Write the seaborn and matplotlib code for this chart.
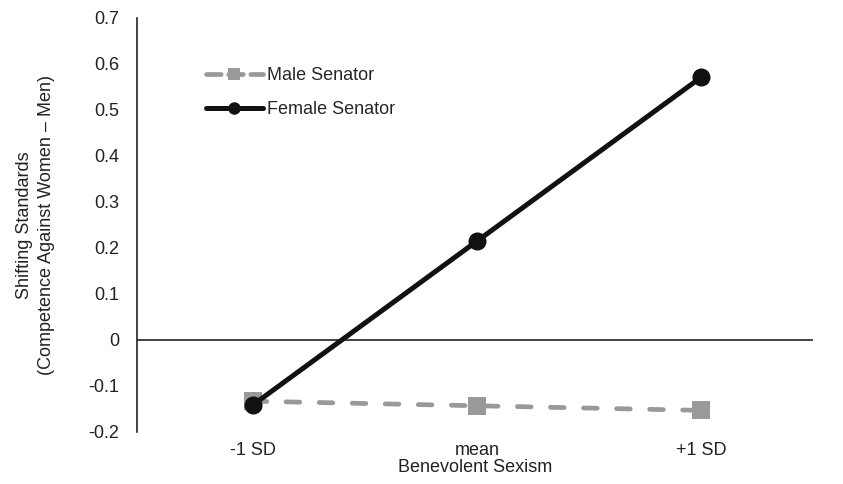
import matplotlib
matplotlib.use("Agg")
import matplotlib.pyplot as plt
from matplotlib.lines import Line2D
import seaborn as sns
import pandas as pd

categories = ["-1 SD", "mean", "+1 SD"]
male_values = [-0.133, -0.143, -0.153]
female_values = [-0.141, 0.215, 0.571]
yticks = [-0.2, -0.1, 0, 0.1, 0.2, 0.3, 0.4, 0.5, 0.6, 0.7]
ytick_labels = ["-0.2", "-0.1", "0", "0.1", "0.2", "0.3", "0.4", "0.5", "0.6", "0.7"]

sns.set_style("white")
plt.rcParams["font.family"] = ["Liberation Sans", "DejaVu Sans"]

male_df = pd.DataFrame({"x": range(len(categories)), "y": male_values})
female_df = pd.DataFrame({"x": range(len(categories)), "y": female_values})

fig = plt.figure(figsize=(8.43, 4.84), dpi=100)
ax = fig.add_axes([137/843, 1 - 432/484, (813 - 137)/843, (432 - 18)/484])

ax.axhline(0, color="#222222", lw=1.2, zorder=1)

male_color = "#999999"
sns.lineplot(data=male_df, x="x", y="y", ax=ax, color=male_color, lw=3.4,
             marker="s", markersize=13, markeredgewidth=0,
             linestyle=(0, (2.9, 4.1)), zorder=2)
ax.lines[-1].set_dash_capstyle("round")
sns.lineplot(data=female_df, x="x", y="y", ax=ax, color="#111111", lw=3.6,
             marker="o", markersize=13, markeredgewidth=0, zorder=3)

fs = 13
ax.set_xlim(-0.518, 2.5)
ax.set_ylim(-0.2, 0.7)
ax.set_yticks(yticks)
ax.set_yticklabels(ytick_labels, fontsize=fs, color="#222222")
ax.set_xticks(range(len(categories)))
ax.set_xticklabels(categories, fontsize=fs, color="#222222")
ax.tick_params(axis="both", length=0)
ax.tick_params(axis="y", pad=13)
ax.tick_params(axis="x", pad=7)

for s in ["top", "right", "bottom"]:
    ax.spines[s].set_visible(False)
ax.spines["left"].set_color("#222222")
ax.spines["left"].set_linewidth(1.2)

ax.set_xlabel("Benevolent Sexism", fontsize=fs, color="#222222", labelpad=0)
ax.set_ylabel("Shifting Standards\n(Competence Against Women \u2013 Men)",
              fontsize=fs, color="#222222", labelpad=24, linespacing=1.35)

handles = [
    Line2D([], [], color=male_color, lw=3.4, linestyle=(0, (3.1, 1.6)),
           dash_capstyle="round", marker="s", markersize=9, markeredgewidth=0),
    Line2D([], [], color="#111111", lw=3.6, marker="o", markersize=9,
           markeredgewidth=0),
]
leg = ax.legend(handles, ["Male Senator", "Female Senator"], loc="upper left",
                bbox_to_anchor=(197/843, 1 - 58/484), bbox_transform=fig.transFigure,
                frameon=False, fontsize=fs, handlelength=3.15, handletextpad=0.2,
                labelspacing=0.95, borderpad=0)

fig.savefig("out.png", dpi=100)
